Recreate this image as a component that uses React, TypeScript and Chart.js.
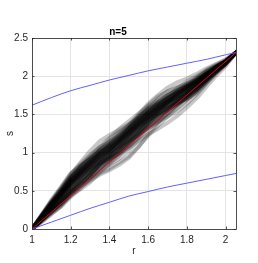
import React, { useEffect, useRef } from "react";
import { Chart, registerables } from "chart.js";

Chart.register(...registerables);

const titleText = "n=5";
const xLabel = "r";
const yLabel = "s";
const xTicks = [1, 1.2, 1.4, 1.6, 1.8, 2];
const yTicks = [0, 0.5, 1, 1.5, 2, 2.5];

const rGrid = [1, 1.05, 1.1, 1.15, 1.2, 1.25, 1.3, 1.35, 1.4, 1.45, 1.5, 1.55, 1.6, 1.65, 1.7, 1.75, 1.8, 1.85, 1.9, 1.95, 2.0, 2.05, 2.054];

const paths: number[][] = [
  [0, 0.18, 0.37, 0.54, 0.72, 0.85, 0.97, 1.07, 1.14, 1.21, 1.30, 1.40, 1.51, 1.60, 1.68, 1.75, 1.82, 1.90, 2.01, 2.10, 2.19, 2.30, 2.31],
  [0, 0.10, 0.20, 0.29, 0.42, 0.53, 0.66, 0.80, 0.93, 1.07, 1.23, 1.39, 1.54, 1.66, 1.75, 1.82, 1.88, 1.95, 2.04, 2.12, 2.19, 2.30, 2.31],
  [0, 0.16, 0.33, 0.49, 0.66, 0.80, 0.94, 1.08, 1.19, 1.31, 1.41, 1.51, 1.61, 1.68, 1.75, 1.81, 1.87, 1.94, 2.03, 2.12, 2.20, 2.30, 2.31],
  [0, 0.12, 0.24, 0.35, 0.48, 0.57, 0.65, 0.73, 0.79, 0.87, 0.95, 1.08, 1.22, 1.35, 1.47, 1.58, 1.69, 1.80, 1.93, 2.05, 2.16, 2.30, 2.31],
  [0, 0.17, 0.34, 0.45, 0.57, 0.65, 0.73, 0.86, 0.99, 1.14, 1.29, 1.43, 1.52, 1.57, 1.61, 1.66, 1.72, 1.83, 1.96, 2.07, 2.17, 2.30, 2.31],
  [0, 0.13, 0.30, 0.47, 0.65, 0.79, 0.89, 0.97, 1.02, 1.08, 1.15, 1.23, 1.32, 1.40, 1.50, 1.61, 1.73, 1.85, 1.98, 2.09, 2.19, 2.30, 2.31],
  [0, 0.14, 0.29, 0.44, 0.61, 0.74, 0.87, 1.00, 1.11, 1.23, 1.36, 1.50, 1.64, 1.75, 1.85, 1.92, 1.97, 2.03, 2.10, 2.16, 2.22, 2.31, 2.31],
  [0, 0.15, 0.28, 0.39, 0.53, 0.66, 0.75, 0.84, 0.91, 0.98, 1.06, 1.15, 1.24, 1.31, 1.39, 1.48, 1.59, 1.71, 1.86, 2.00, 2.13, 2.29, 2.31],
  [0, 0.19, 0.38, 0.55, 0.73, 0.83, 0.91, 0.98, 1.05, 1.14, 1.27, 1.41, 1.50, 1.56, 1.62, 1.68, 1.75, 1.86, 1.99, 2.10, 2.19, 2.30, 2.31],
  [0, 0.09, 0.19, 0.30, 0.46, 0.60, 0.70, 0.78, 0.85, 0.96, 1.10, 1.26, 1.41, 1.53, 1.65, 1.76, 1.86, 1.94, 2.03, 2.11, 2.18, 2.30, 2.31],
  [0, 0.16, 0.31, 0.42, 0.59, 0.74, 0.88, 1.03, 1.15, 1.24, 1.32, 1.42, 1.57, 1.70, 1.80, 1.86, 1.91, 1.97, 2.06, 2.13, 2.20, 2.30, 2.31],
  [0, 0.11, 0.23, 0.33, 0.44, 0.52, 0.61, 0.74, 0.86, 1.00, 1.13, 1.24, 1.34, 1.42, 1.52, 1.62, 1.72, 1.81, 1.93, 2.05, 2.16, 2.30, 2.31],
  [0, 0.15, 0.32, 0.48, 0.64, 0.73, 0.81, 0.91, 1.02, 1.16, 1.32, 1.47, 1.58, 1.64, 1.70, 1.76, 1.83, 1.93, 2.03, 2.12, 2.19, 2.30, 2.31],
  [0, 0.12, 0.27, 0.43, 0.60, 0.71, 0.79, 0.87, 0.92, 0.99, 1.08, 1.21, 1.37, 1.50, 1.59, 1.65, 1.70, 1.78, 1.91, 2.04, 2.16, 2.30, 2.31],
  [0, 0.18, 0.36, 0.53, 0.71, 0.87, 1.02, 1.15, 1.23, 1.30, 1.37, 1.45, 1.54, 1.63, 1.71, 1.79, 1.86, 1.93, 2.02, 2.11, 2.19, 2.30, 2.31],
  [0, 0.12, 0.22, 0.32, 0.45, 0.55, 0.63, 0.71, 0.77, 0.84, 0.93, 1.07, 1.24, 1.39, 1.52, 1.63, 1.73, 1.83, 1.95, 2.06, 2.17, 2.30, 2.31],
  [0, 0.17, 0.33, 0.47, 0.60, 0.70, 0.83, 0.97, 1.09, 1.20, 1.29, 1.37, 1.46, 1.54, 1.65, 1.76, 1.87, 1.97, 2.06, 2.13, 2.20, 2.30, 2.31],
  [0, 0.14, 0.25, 0.35, 0.49, 0.63, 0.77, 0.91, 1.01, 1.09, 1.17, 1.27, 1.40, 1.53, 1.66, 1.77, 1.86, 1.93, 2.02, 2.10, 2.18, 2.30, 2.31],
  [0, 0.16, 0.34, 0.51, 0.69, 0.82, 0.92, 1.01, 1.08, 1.19, 1.33, 1.48, 1.62, 1.73, 1.80, 1.85, 1.90, 1.96, 2.04, 2.12, 2.19, 2.30, 2.31],
  [0, 0.10, 0.21, 0.31, 0.43, 0.56, 0.70, 0.84, 0.94, 1.03, 1.16, 1.31, 1.46, 1.58, 1.66, 1.71, 1.76, 1.83, 1.94, 2.06, 2.16, 2.30, 2.31],
  [0, 0.15, 0.30, 0.45, 0.63, 0.77, 0.87, 0.95, 1.01, 1.12, 1.25, 1.36, 1.45, 1.51, 1.57, 1.63, 1.70, 1.80, 1.93, 2.05, 2.16, 2.30, 2.31],
  [0, 0.13, 0.25, 0.39, 0.57, 0.72, 0.86, 0.99, 1.07, 1.14, 1.21, 1.30, 1.39, 1.47, 1.55, 1.64, 1.75, 1.87, 2.01, 2.12, 2.20, 2.30, 2.31],
  [0, 0.17, 0.35, 0.52, 0.68, 0.78, 0.85, 0.93, 1.03, 1.16, 1.30, 1.44, 1.55, 1.62, 1.73, 1.84, 1.93, 2.00, 2.08, 2.15, 2.21, 2.30, 2.31],
  [0, 0.11, 0.22, 0.34, 0.51, 0.61, 0.68, 0.76, 0.84, 0.92, 1.02, 1.17, 1.31, 1.40, 1.47, 1.54, 1.64, 1.76, 1.90, 2.03, 2.15, 2.30, 2.31],
  [0, 0.16, 0.32, 0.46, 0.62, 0.76, 0.90, 1.02, 1.09, 1.17, 1.27, 1.38, 1.48, 1.57, 1.66, 1.73, 1.81, 1.91, 2.01, 2.11, 2.19, 2.30, 2.31],
  [0, 0.13, 0.26, 0.37, 0.51, 0.64, 0.76, 0.86, 0.94, 1.05, 1.18, 1.32, 1.47, 1.60, 1.71, 1.80, 1.87, 1.94, 2.02, 2.10, 2.18, 2.30, 2.31],
  [0, 0.14, 0.30, 0.44, 0.58, 0.68, 0.78, 0.91, 1.03, 1.15, 1.25, 1.34, 1.42, 1.49, 1.56, 1.65, 1.76, 1.88, 2.00, 2.11, 2.19, 2.30, 2.31],
  [0, 0.18, 0.35, 0.50, 0.67, 0.81, 0.95, 1.07, 1.17, 1.27, 1.35, 1.44, 1.52, 1.59, 1.69, 1.80, 1.90, 1.98, 2.07, 2.14, 2.20, 2.30, 2.31],
  [0, 0.12, 0.24, 0.36, 0.48, 0.58, 0.71, 0.85, 0.97, 1.06, 1.14, 1.23, 1.33, 1.44, 1.56, 1.68, 1.78, 1.86, 1.96, 2.07, 2.17, 2.30, 2.31],
  [0, 0.15, 0.31, 0.47, 0.61, 0.70, 0.80, 0.93, 1.05, 1.18, 1.26, 1.35, 1.48, 1.61, 1.68, 1.73, 1.79, 1.87, 1.97, 2.08, 2.18, 2.30, 2.31],
  [0, 0.15, 0.31, 0.46, 0.63, 0.76, 0.85, 0.94, 1.04, 1.16, 1.28, 1.38, 1.47, 1.55, 1.65, 1.75, 1.84, 1.92, 2.01, 2.10, 2.18, 2.30, 2.31],
  [0, 0.13, 0.26, 0.40, 0.53, 0.62, 0.72, 0.85, 0.97, 1.10, 1.23, 1.34, 1.43, 1.50, 1.58, 1.68, 1.78, 1.89, 1.99, 2.08, 2.17, 2.30, 2.31],
  [0, 0.16, 0.33, 0.49, 0.66, 0.77, 0.86, 0.98, 1.10, 1.22, 1.32, 1.41, 1.51, 1.62, 1.72, 1.78, 1.83, 1.90, 2.00, 2.09, 2.18, 2.30, 2.31],
  [0, 0.11, 0.23, 0.35, 0.50, 0.64, 0.74, 0.82, 0.89, 1.01, 1.15, 1.28, 1.38, 1.46, 1.56, 1.67, 1.77, 1.85, 1.95, 2.06, 2.17, 2.30, 2.31],
  [0, 0.14, 0.29, 0.44, 0.60, 0.71, 0.83, 0.96, 1.04, 1.12, 1.20, 1.30, 1.43, 1.56, 1.68, 1.78, 1.85, 1.91, 2.00, 2.09, 2.19, 2.30, 2.31],
  [0, 0.17, 0.34, 0.48, 0.65, 0.79, 0.92, 1.04, 1.11, 1.19, 1.31, 1.45, 1.58, 1.66, 1.73, 1.79, 1.86, 1.94, 2.03, 2.11, 2.19, 2.30, 2.31],
  [0, 0.12, 0.25, 0.37, 0.54, 0.68, 0.81, 0.91, 0.97, 1.04, 1.13, 1.24, 1.38, 1.51, 1.63, 1.73, 1.80, 1.87, 1.97, 2.07, 2.17, 2.30, 2.31],
  [0, 0.15, 0.32, 0.47, 0.61, 0.74, 0.88, 1.00, 1.07, 1.14, 1.24, 1.38, 1.53, 1.65, 1.75, 1.81, 1.87, 1.95, 2.04, 2.12, 2.19, 2.30, 2.31],
  [0, 0.12, 0.23, 0.34, 0.47, 0.58, 0.67, 0.79, 0.90, 0.99, 1.08, 1.19, 1.33, 1.46, 1.57, 1.65, 1.72, 1.82, 1.95, 2.07, 2.17, 2.30, 2.31],
  [0, 0.16, 0.31, 0.43, 0.58, 0.72, 0.84, 0.93, 1.00, 1.11, 1.24, 1.37, 1.48, 1.58, 1.66, 1.72, 1.79, 1.89, 2.01, 2.10, 2.18, 2.30, 2.31],
  [0, 0.13, 0.29, 0.45, 0.62, 0.73, 0.81, 0.89, 0.96, 1.07, 1.21, 1.35, 1.45, 1.52, 1.60, 1.70, 1.81, 1.91, 2.01, 2.10, 2.18, 2.30, 2.31],
  [0, 0.18, 0.35, 0.51, 0.69, 0.83, 0.93, 1.02, 1.12, 1.24, 1.36, 1.47, 1.56, 1.63, 1.70, 1.77, 1.84, 1.92, 2.02, 2.11, 2.19, 2.30, 2.31],
  [0, 0.14, 0.26, 0.37, 0.49, 0.59, 0.71, 0.84, 0.92, 1.00, 1.11, 1.25, 1.40, 1.52, 1.62, 1.69, 1.75, 1.83, 1.95, 2.07, 2.17, 2.30, 2.31],
  [0, 0.16, 0.32, 0.48, 0.64, 0.75, 0.86, 0.99, 1.09, 1.17, 1.26, 1.39, 1.52, 1.60, 1.67, 1.74, 1.82, 1.91, 2.01, 2.11, 2.19, 2.30, 2.31],
  [0, 0.13, 0.26, 0.41, 0.58, 0.69, 0.78, 0.87, 0.95, 1.06, 1.19, 1.32, 1.46, 1.57, 1.64, 1.70, 1.76, 1.86, 1.98, 2.09, 2.18, 2.30, 2.31],
];

const redR = [1, 2.054];
const redS = [0, 2.31];

const blueR = [1, 1.1, 1.2, 1.3, 1.4, 1.5, 1.6, 1.7, 1.8, 1.9, 2.0, 2.054];
const upperS = [1.62, 1.72, 1.81, 1.88, 1.95, 2.01, 2.07, 2.12, 2.17, 2.22, 2.28, 2.31];
const lowerS = [0, 0.09, 0.18, 0.27, 0.35, 0.43, 0.49, 0.55, 0.60, 0.65, 0.70, 0.727];

const X_MIN = 1;
const X_MAX = 2.054;
const Y_MIN = 0;
const Y_MAX = 2.5;

const FONT = "'Liberation Sans', Arial, Helvetica, sans-serif";
const AXIS_COLOR = "#262626";

const toPts = (xs: number[], ys: number[]) => xs.map((x, i) => ({ x, y: ys[i] }));

const boxPlugin = {
  id: "boxPlugin",
  afterDraw(chart: any) {
    const { ctx, chartArea } = chart;
    const { left, right, top, bottom } = chartArea;
    ctx.save();
    ctx.strokeStyle = AXIS_COLOR;
    ctx.lineWidth = 0.8;
    const xs = chart.scales.x;
    const ys = chart.scales.y;
    ctx.beginPath();
    xs.ticks.forEach((t: any) => {
      const px = Math.round(xs.getPixelForValue(t.value)) + 0.5;
      ctx.moveTo(px, bottom);
      ctx.lineTo(px, bottom - 2.5);
      ctx.moveTo(px, top);
      ctx.lineTo(px, top + 2.5);
    });
    ys.ticks.forEach((t: any) => {
      const py = Math.round(ys.getPixelForValue(t.value)) + 0.5;
      ctx.moveTo(left, py);
      ctx.lineTo(left + 2.5, py);
      ctx.moveTo(right, py);
      ctx.lineTo(right - 2.5, py);
    });
    ctx.stroke();
    ctx.strokeRect(Math.round(left) + 0.5, Math.round(top) + 0.5, Math.round(right - left), Math.round(bottom - top));
    ctx.restore();
  },
};

export default function App() {
  const ref = useRef<HTMLCanvasElement | null>(null);
  useEffect(() => {
    if (!ref.current) return;
    const greyDatasets = paths.map((p) => ({
      data: toPts(rGrid, p),
      borderColor: "rgba(0,0,0,0.22)",
      borderWidth: 4,
      borderJoinStyle: "round",
      borderCapStyle: "round",
      pointRadius: 0,
      tension: 0,
      order: 2,
    }));
    const chart = new Chart(ref.current, {
      type: "line",
      data: {
        datasets: [
          {
            data: toPts(redR, redS),
            borderColor: "#e0001a",
            borderWidth: 1,
            pointRadius: 0,
            order: 0,
          },
          {
            data: toPts(blueR, upperS),
            borderColor: "#6060ff",
            borderWidth: 1,
            pointRadius: 0,
            cubicInterpolationMode: "monotone",
            order: 0,
          },
          {
            data: toPts(blueR, lowerS),
            borderColor: "#6060ff",
            borderWidth: 1,
            pointRadius: 0,
            cubicInterpolationMode: "monotone",
            order: 0,
          },
          ...greyDatasets,
        ] as any,
      },
      options: {
        responsive: false,
        animation: false,
        events: [],
        layout: { padding: { left: 0, right: 22, top: 0, bottom: 0 } },
        plugins: {
          legend: { display: false },
          tooltip: { enabled: false },
          title: {
            display: true,
            text: titleText,
            color: "#000",
            font: { family: FONT, size: 10, weight: "bold", lineHeight: 1.2 },
            padding: { top: 26, bottom: 0 },
          },
        },
        scales: {
          x: {
            type: "linear",
            min: X_MIN,
            max: X_MAX,
            afterFit: (s: any) => {
              s.height = 34;
            },
            afterBuildTicks: (s: any) => {
              s.ticks = xTicks.map((v) => ({ value: v }));
            },
            ticks: {
              color: AXIS_COLOR,
              font: { family: FONT, size: 10 },
              padding: 5,
              maxRotation: 0,
              autoSkip: false,
              callback: (v: any) => String(Number(Number(v).toFixed(2))),
            },
            grid: { color: "#e4e4e4", lineWidth: 1, drawTicks: false },
            border: { display: false },
            title: {
              display: true,
              text: xLabel,
              color: AXIS_COLOR,
              font: { family: FONT, size: 10 },
              padding: { top: 0, bottom: 6 },
            },
          },
          y: {
            type: "linear",
            min: Y_MIN,
            max: Y_MAX,
            afterFit: (s: any) => {
              s.width = 32;
            },
            afterBuildTicks: (s: any) => {
              s.ticks = yTicks.map((v) => ({ value: v }));
            },
            ticks: {
              color: AXIS_COLOR,
              font: { family: FONT, size: 10 },
              padding: 4,
              autoSkip: false,
              callback: (v: any) => String(Number(Number(v).toFixed(2))),
            },
            grid: { color: "#e4e4e4", lineWidth: 1, drawTicks: false },
            border: { display: false },
            title: {
              display: true,
              text: yLabel,
              color: AXIS_COLOR,
              font: { family: FONT, size: 10 },
              padding: { top: 4, bottom: 0 },
            },
          },
        },
      },
      plugins: [boxPlugin],
    } as any);
    return () => chart.destroy();
  }, []);
  return (
    <div style={{ position: "absolute", left: 0, top: 0, width: 258, height: 263, background: "#fff" }}>
      <canvas ref={ref} width={258} height={263} style={{ display: "block" }} />
    </div>
  );
}
